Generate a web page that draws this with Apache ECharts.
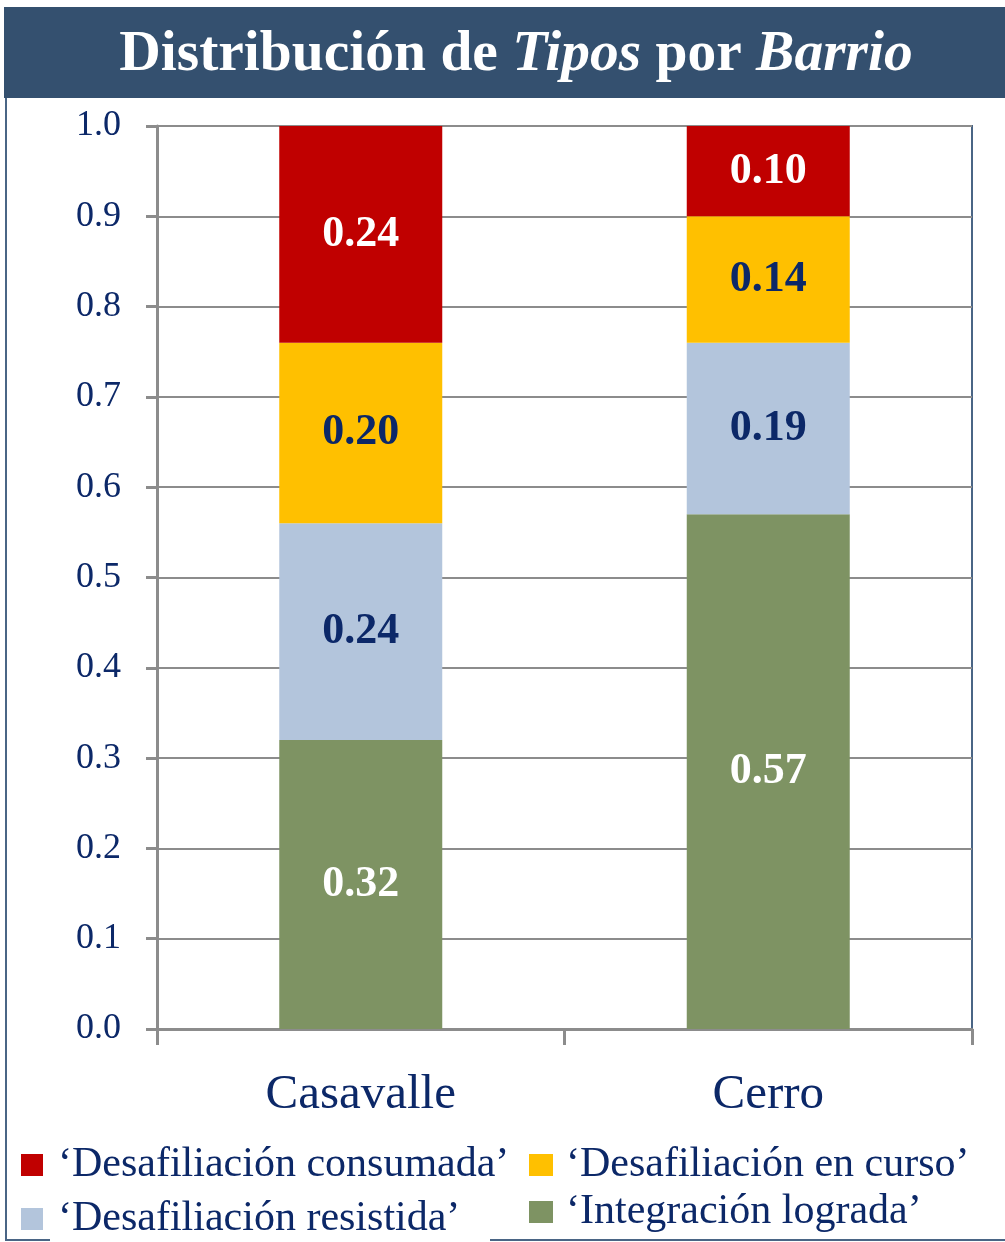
<!DOCTYPE html>
<html><head><meta charset="utf-8">
<script src="https://cdn.jsdelivr.net/npm/echarts@6/dist/echarts.min.js"></script>
<style>html,body{margin:0;padding:0;background:#fff}#c{width:1005px;height:1242px}</style>
</head><body><div id="c"></div>
<script>
const categories = ['Casavalle', 'Cerro'];
const seriesNames = ['‘Integración lograda’', '‘Desafiliación resistida’', '‘Desafiliación en curso’', '‘Desafiliación consumada’'];
const integracion = [0.32, 0.57];
const resistida = [0.24, 0.19];
const enCurso = [0.20, 0.14];
const consumada = [0.24, 0.10];
const yTicks = [0, 0.1, 0.2, 0.3, 0.4, 0.5, 0.6, 0.7, 0.8, 0.9, 1.0];

const NAVY = '#0C2868';
const FONT = '"Liberation Serif", "DejaVu Serif", serif';
const colors = ['#7E9363', '#B3C5DC', '#FFC000', '#C00000'];
const labelColors = ['#FFFFFF', NAVY, NAVY, '#FFFFFF'];
const values = [integracion, resistida, enCurso, consumada];

const chart = echarts.init(document.getElementById('c'), null, {renderer: 'canvas'});
chart.setOption({
  animation: false,
  backgroundColor: '#fff',
  title: {
    text: '{a|Distribución de }{b|Tipos}{a| por }{b|Barrio}',
    left: 511, top: 21, textAlign: 'center',
    textStyle: {
      rich: {
        a: {fontFamily: FONT, fontSize: 57.5, fontWeight: 'bold', color: '#fff'},
        b: {fontFamily: FONT, fontSize: 57.5, fontWeight: 'bold', fontStyle: 'italic', color: '#fff'}
      }
    },
    z: 10
  },
  graphic: [
    {type: 'rect', shape: {x: 4, y: 7, width: 1001, height: 91}, style: {fill: '#34506F'}, z: -1},
    {type: 'line', shape: {x1: 6, y1: 98, x2: 6, y2: 1240}, style: {stroke: '#4A6585', lineWidth: 2}},
    {type: 'line', shape: {x1: 5, y1: 1240, x2: 50, y2: 1240}, style: {stroke: '#4A6585', lineWidth: 2}},
    {type: 'line', shape: {x1: 490, y1: 1240, x2: 1005, y2: 1240}, style: {stroke: '#4A6585', lineWidth: 2}}
  ],
  legend: [
    {
      data: [seriesNames[3], seriesNames[1]],
      orient: 'vertical', left: 21, top: 1144, padding: 0, itemWidth: 22, itemHeight: 22, itemGap: 12,
      icon: 'rect',
      textStyle: {fontFamily: FONT, fontSize: 42, color: NAVY, lineHeight: 40, padding: [0, 0, 0, 10]}
    },
    {
      data: [seriesNames[2], seriesNames[0]],
      orient: 'vertical', left: 529, top: 1144, padding: 0, itemWidth: 24, itemHeight: 22, itemGap: 5,
      icon: 'rect',
      textStyle: {fontFamily: FONT, fontSize: 42, color: NAVY, lineHeight: 40, padding: [0, 0, 0, 8]}
    }
  ],
  grid: {left: 157, top: 126, right: 33, bottom: 213, show: true, borderColor: '#4A6585', borderWidth: 2, containLabel: false},
  xAxis: {
    type: 'category', data: categories,
    axisLine: {lineStyle: {color: '#8C8C8C', width: 3}},
    axisTick: {show: true, length: 16, lineStyle: {color: '#8C8C8C', width: 3}},
    axisLabel: {fontFamily: FONT, fontSize: 49, color: NAVY, margin: 42}
  },
  yAxis: {
    type: 'value', min: 0, max: 1, interval: 0.1,
    axisLine: {show: true, lineStyle: {color: '#8C8C8C', width: 3}},
    axisTick: {show: true, length: 11, lineStyle: {color: '#8C8C8C', width: 3}},
    splitLine: {lineStyle: {color: '#8C8C8C', width: 2}},
    axisLabel: {fontFamily: FONT, fontSize: 36, color: NAVY, margin: 36, formatter: v => v.toFixed(1)}
  },
  series: values.map((d, i) => ({
    name: seriesNames[i], type: 'bar', stack: 'tot', data: d, barWidth: '40%',
    itemStyle: {color: colors[i]},
    label: {show: true, position: 'inside', fontFamily: FONT, fontSize: 44, fontWeight: 'bold',
      color: labelColors[i], formatter: p => p.value.toFixed(2)}
  }))
});
</script></body></html>
